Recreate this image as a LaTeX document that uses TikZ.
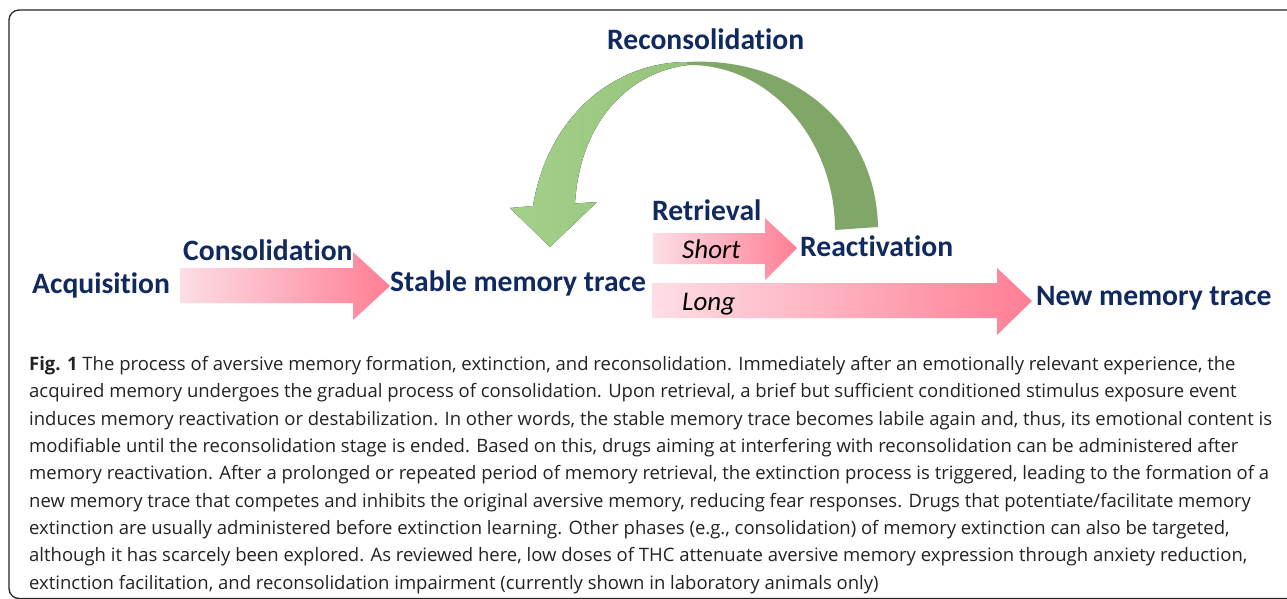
\documentclass[tikz,border=0pt]{standalone}
\usepackage{fontspec}
\setmainfont{Open Sans}
\newfontfamily\lblfont[Ligatures={NoCommon}]{Carlito}
\definecolor{navy}{RGB}{16,42,96}
\definecolor{pinkL}{RGB}{253,222,229}
\definecolor{pinkR}{RGB}{255,126,148}
\definecolor{greenL}{RGB}{163,208,138}
\definecolor{greenL2}{RGB}{150,196,124}
\definecolor{greenD}{RGB}{128,166,104}
\definecolor{captext}{RGB}{35,35,35}
\begin{document}
\begin{tikzpicture}[x=1pt,y=-1pt,
  lbl/.style={font=\lblfont\bfseries\fontsize{29.6}{34}\selectfont, text=navy, inner sep=0pt, anchor=base west},
  ital/.style={font=\lblfont\itshape\fontsize{27}{32}\selectfont, text=black, inner sep=0pt, anchor=base west},
  pinkarrow/.style={left color=pinkL, right color=pinkR, draw=none},
  frame/.style={line width=1.3pt, rounded corners=10pt, black!85}
]
\useasboundingbox (0,0) rectangle (1287,599);
\begin{scope}
\clip (0,0) rectangle (1287,599);
\fill[white] (0,0) rectangle (1287,599);
\draw[frame] (1300,10) -- (9,10) -- (9,598.5) -- (1300,598.5);

% green curved arrow (reconsolidation loop)
\fill[left color=greenL, right color=greenL2] (687,62) .. controls (615,62) and (548,115) .. (533,206)
  -- (510,208) -- (550,247) -- (597,202) -- (575,203.5)
  .. controls (580,120) and (630,72) .. (688,65) -- cycle;
\fill[greenD] (687,62) .. controls (795,56) and (876,128) .. (878,227)
  -- (835,230) .. controls (835,140) and (770,64) .. (688,65) -- cycle;

% pink block arrows
\path[pinkarrow] (180,268) -- (353,268) -- (353,252) -- (390,286) -- (353,320) -- (353,303) -- (180,303) -- cycle;
\path[pinkarrow] (653,233) -- (765,233) -- (765,218) -- (797,248) -- (765,280) -- (765,264) -- (653,264) -- cycle;
\path[pinkarrow] (652,283) -- (997,283) -- (997,268) -- (1032,301) -- (997,335) -- (997,318) -- (652,318) -- cycle;
\end{scope}

% labels
\node[lbl] (acq) at (32,293) {Acquisition};
\node[lbl] (cons) at (183,260) {Consolidation};
\node[lbl] (stable) at (390,291) {Stable memory trace};
\node[lbl] (recons) at (607,50) {Reconsolidation};
\node[lbl] (retr) at (652,220) {Retrieval};
\node[lbl] (react) at (800,256) {Reactivation};
\node[lbl] (newmem) at (1036,305) {New memory trace};
\node[ital] (short) at (682,258) {Short};
\node[ital] (long) at (682,310) {Long};

% caption
\node[anchor=base west, inner sep=0pt, align=left, text=captext,
      font=\fontsize{18.5}{27.3}\selectfont] (cap) at (29,589)
{\textbf{Fig. 1} The process of aversive memory formation, extinction, and reconsolidation. Immediately after an emotionally relevant experience, the\\
acquired memory undergoes the gradual process of consolidation. Upon retrieval, a brief but sufficient conditioned stimulus exposure event\\
induces memory reactivation or destabilization. In other words, the stable memory trace becomes labile again and, thus, its emotional content is\\
modifiable until the reconsolidation stage is ended. Based on this, drugs aiming at interfering with reconsolidation can be administered after\\
memory reactivation. After a prolonged or repeated period of memory retrieval, the extinction process is triggered, leading to the formation of a\\
new memory trace that competes and inhibits the original aversive memory, reducing fear responses. Drugs that potentiate/facilitate memory\\
extinction are usually administered before extinction learning. Other phases (e.g., consolidation) of memory extinction can also be targeted,\\
although it has scarcely been explored. As reviewed here, low doses of THC attenuate aversive memory expression through anxiety reduction,\\
extinction facilitation, and reconsolidation impairment (currently shown in laboratory animals only)};
\end{tikzpicture}
\end{document}
